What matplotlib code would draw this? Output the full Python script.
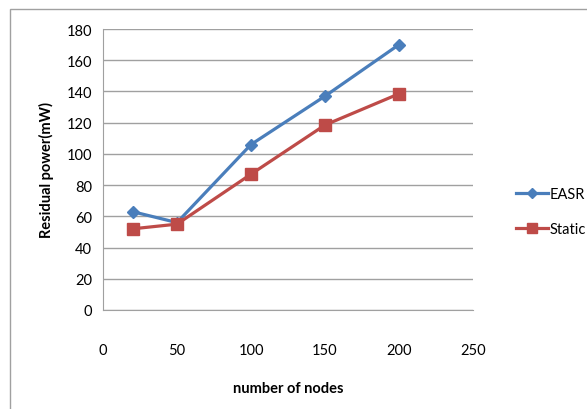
import matplotlib
matplotlib.use("Agg")
import matplotlib.pyplot as plt
from matplotlib.patches import Rectangle

nodes = [20, 50, 100, 150, 200]
easr = [63, 56, 106, 137, 170]
static = [52, 55, 87, 118.5, 138.5]
xticks = [0, 50, 100, 150, 200, 250]
yticks = [0, 20, 40, 60, 80, 100, 120, 140, 160, 180]

plt.rcParams['font.family'] = ['Lato', 'DejaVu Sans']

fig = plt.figure(figsize=(5.87, 4.10), dpi=100)
fig.patches.append(Rectangle((10/587, -0.1), 1.2, 1 - 10/410 + 0.1, transform=fig.transFigure,
                             fill=False, edgecolor='#A0A0A0', linewidth=1.0))
ax = fig.add_axes([103/587, 1 - 311/410, 370/587, 281/410])

ax.plot(nodes, easr, color='#4A7EBB', linewidth=2.3, marker='D', markersize=6.5, label='EASR', zorder=3)
ax.plot(nodes, static, color='#BE4B48', linewidth=2.3, marker='s', markersize=8.5, label='Static', zorder=3)

ax.set_xlim(0, 250)
ax.set_ylim(0, 180)
ax.set_xticks(xticks)
ax.set_yticks(yticks)
ax.yaxis.grid(True, color='#A0A0A0', linewidth=1.0)
ax.set_axisbelow(True)
for s in ['top', 'right']:
    ax.spines[s].set_visible(False)
for s in ['left', 'bottom']:
    ax.spines[s].set_color('#A0A0A0')
ax.tick_params(axis='both', length=0, labelsize=10.5, colors='black')
ax.tick_params(axis='x', pad=24)
ax.tick_params(axis='y', pad=8)

ax.set_xlabel('number of nodes', fontsize=10.5, fontweight='bold', labelpad=17)
ax.set_ylabel('Residual power(mW)', fontsize=10.5, fontweight='bold', labelpad=9)

leg = ax.legend(loc='center left', bbox_to_anchor=(1.08, 0.35), frameon=False, fontsize=10.5,
                handlelength=2.2, handletextpad=0.1, labelspacing=1.45, markerscale=0.8)

fig.savefig('out.png', dpi=100)
